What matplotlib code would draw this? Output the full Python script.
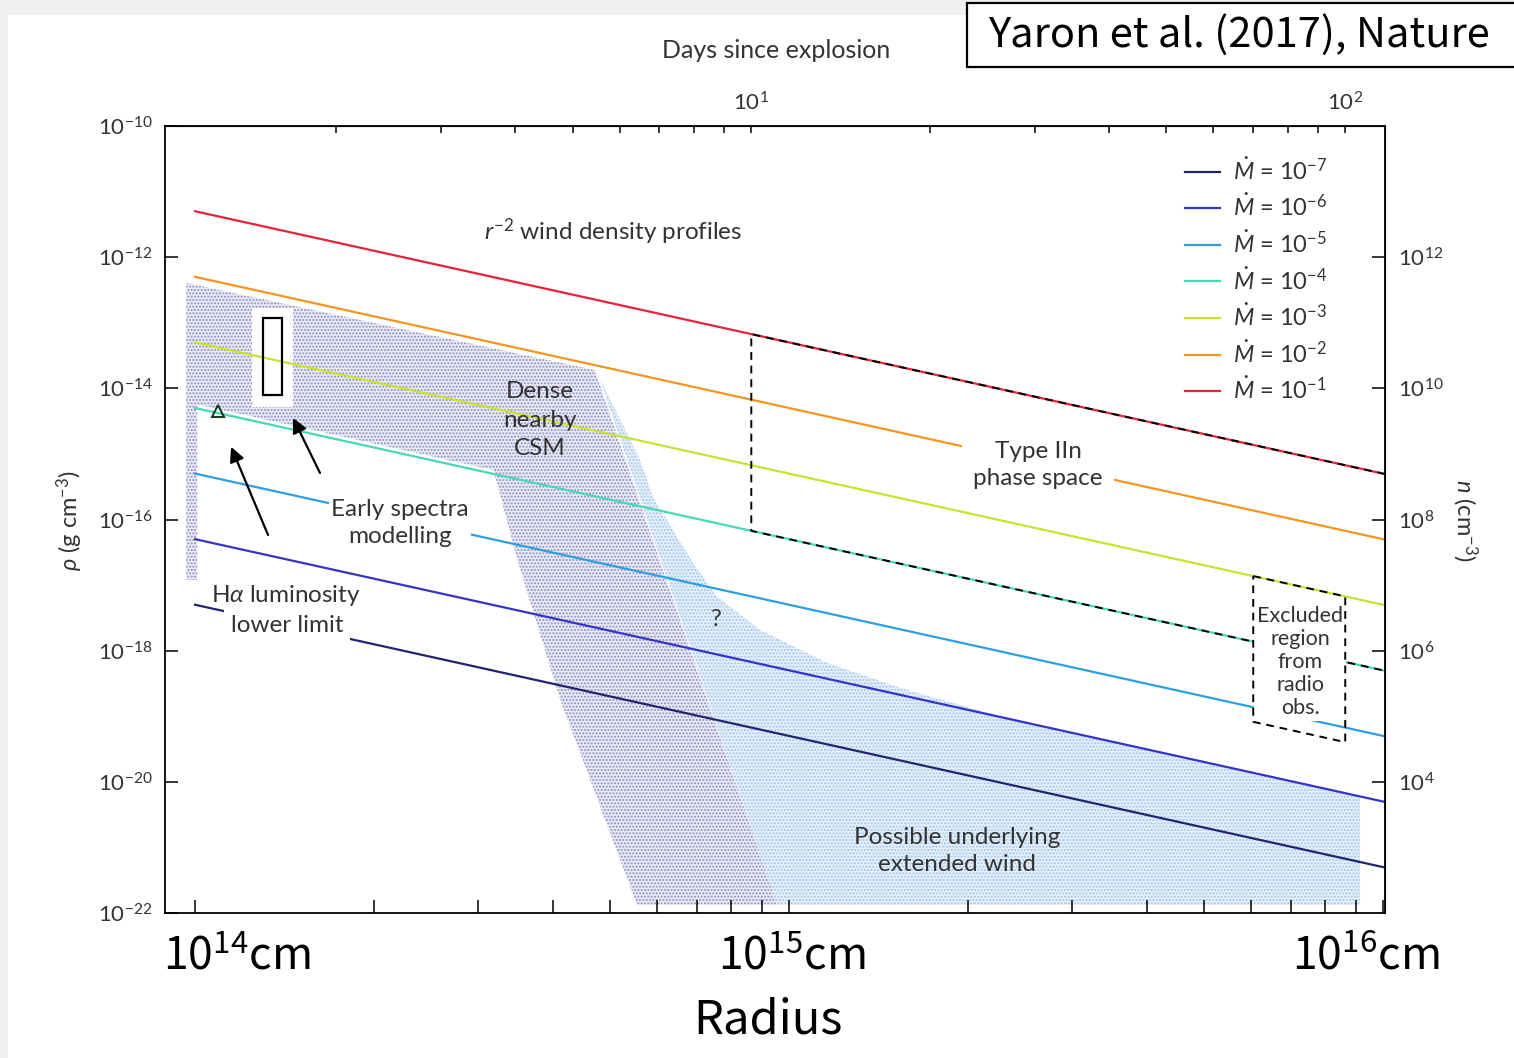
import numpy as np
import matplotlib
matplotlib.use('Agg')
from matplotlib import pyplot as plt
from matplotlib.patches import Rectangle
from matplotlib.ticker import FixedLocator, NullFormatter, NullLocator

plt.rcParams['font.family'] = ['Lato', 'DejaVu Sans']
plt.rcParams['mathtext.fontset'] = 'custom'
plt.rcParams['mathtext.rm'] = 'Lato'
plt.rcParams['mathtext.it'] = 'Lato:italic'
plt.rcParams['mathtext.bf'] = 'Lato:bold'
plt.rcParams['hatch.linewidth'] = 1.0

W, H = 1514, 1058
MSUN_YR = 1.989e33 / 3.156e7   # g/s for 1 Msun/yr
V_WIND = 1e7                   # 100 km/s wind
V_SHOCK = 1e9                  # 1e4 km/s, radius -> days
DAY = 86400.
MU_MASS = 1e-24                # g per particle, rho -> n

# mass-loss rates (Msun/yr) and their colours
mdot = [1e-7, 1e-6, 1e-5, 1e-4, 1e-3, 1e-2, 1e-1]
mdot_exp = ['-7', '-6', '-5', '-4', '-3', '-2', '-1']
mdot_colors = ['#23236e', '#3434c8', '#2d9fdf', '#47d8b6', '#c8e22e', '#f7941d', '#e8233a']

r_lim = [8.9e13, 1.008e16]
rho_lim = [1e-22, 1e-10]
r_start = 1e14

# shaded regions (r in cm, rho in g/cm^3)
dense_csm_r = [9.66e13, 4.71e14, 9.55e14, 5.55e14, 4.12e14, 3.49e14, 3.18e14,
               1.008e14, 1.008e14, 9.66e13]
dense_csm_rho = [4.05e-13, 1.9e-14, 1.33e-22, 1.33e-22, 1.78e-19, 2.42e-17, 5.7e-16,
                 5.7e-15, 1.2e-17, 1.2e-17]
ext_wind_r = [4.81e14, 5.61e14, 5.90e14, 6.89e14, 7.57e14, 8.94e14, 1.159e15,
              1.538e15, 2.266e15, 9.15e15, 9.15e15, 9.55e14]
ext_wind_rho = [1.34e-14, 8.11e-16, 2.21e-16, 2.18e-17, 6.60e-18, 2.07e-18, 6.51e-19,
                2.71e-19, 1.0e-19, 5.9e-21, 1.33e-22, 1.33e-22]

# Type IIn phase space and radio exclusion (days, Msun/yr)
iin_days = 10.
iin_mdot = [1e-4, 1e-1]
excl_days = [70., 100.]
excl_mdot = [6e-6, 1e-3]

# early spectra constraints
early_r = [1.30e14, 1.40e14]
early_rho = [7.9e-15, 1.18e-13]
tri_r = [1.093e14]
tri_rho = [4.5e-15]
arrow_tail_r = [1.327e14, 1.623e14]
arrow_tail_rho = [5.82e-17, 5.13e-16]
arrow_head_r = [1.150e14, 1.462e14]
arrow_head_rho = [1.28e-15, 3.54e-15]


def wind_rho(m, r):
  r = np.asarray(r, dtype=float)
  return m * MSUN_YR / (4 * np.pi * r ** 2 * V_WIND)


def r2days(r):
  return np.asarray(r) / (V_SHOCK * DAY)


def days2r(d):
  return np.asarray(d) * V_SHOCK * DAY


def fig_px(x, y):
  return x / W, 1 - y / H


fig = plt.figure(figsize=(W / 100, H / 100), dpi=100)
fig.patch.set_facecolor('#f0f0f0')
fig.add_artist(Rectangle((8 / W, 0), 1, 1 - 15 / H, transform=fig.transFigure,
                         facecolor='white', edgecolor='none', zorder=-10))

ax = fig.add_axes([165 / W, 1 - 913 / H, 1220 / W, 787 / H])


def ax_px(x, y):
  return (x - 165) / 1220, (913 - y) / 787


ax.set_xscale('log')
ax.set_yscale('log')
ax.set_xlim(r_lim)
ax.set_ylim(rho_lim)

# shaded regions, stippled
ax.fill(ext_wind_r, ext_wind_rho, facecolor='#e7f0fa', edgecolor='#9ec7ec',
        hatch='.....', linewidth=0, zorder=1)
ax.fill(dense_csm_r, dense_csm_rho, facecolor='#ebebf6', edgecolor='#8e8ec4',
        hatch='.....', linewidth=0, zorder=1.1)

# wind density lines
r_line = np.array([r_start, r_lim[1]])
for m, e, c in zip(mdot, mdot_exp, mdot_colors):
  ax.plot(r_line, wind_rho(m, r_line), color=c, lw=1.6, zorder=2,
          label=r'$\dot{M}$ = 10$^{%s}$' % e)

# Type IIn box
r_iin = days2r(iin_days)
ax.plot([r_lim[1], r_iin, r_iin, r_lim[1]],
        [wind_rho(iin_mdot[1], r_lim[1]), wind_rho(iin_mdot[1], r_iin),
         wind_rho(iin_mdot[0], r_iin), wind_rho(iin_mdot[0], r_lim[1])],
        color='black', lw=1.4, ls=(0, (4, 3)), zorder=3)

# radio exclusion box
r_ex = days2r(np.array(excl_days))
ax.plot([r_ex[0], r_ex[1], r_ex[1], r_ex[0], r_ex[0]],
        [wind_rho(excl_mdot[1], r_ex[0]), wind_rho(excl_mdot[1], r_ex[1]),
         wind_rho(excl_mdot[0], r_ex[1]), wind_rho(excl_mdot[0], r_ex[0]),
         wind_rho(excl_mdot[1], r_ex[0])],
        color='black', lw=1.4, ls=(0, (4, 3)), zorder=5)

# early spectra box, with clear space around it
ax.fill([early_r[0] * 0.961, early_r[1] * 1.044, early_r[1] * 1.044, early_r[0] * 0.961],
        [early_rho[0] * 0.66, early_rho[0] * 0.66, early_rho[1] * 1.42, early_rho[1] * 1.42],
        facecolor='white', edgecolor='none', zorder=1.5)
ax.add_patch(Rectangle((early_r[0], early_rho[0]), early_r[1] - early_r[0],
                       early_rho[1] - early_rho[0], facecolor='none',
                       edgecolor='black', lw=1.6, zorder=3))
ax.plot(tri_r, tri_rho, marker='^', ms=8, mfc='none', mec='#1d3b24', mew=1.5,
        ls='none', zorder=3)
for tr, trho, hr, hrho in zip(arrow_tail_r, arrow_tail_rho, arrow_head_r, arrow_head_rho):
  ax.annotate('', xy=(hr, hrho), xytext=(tr, trho),
              arrowprops=dict(arrowstyle='-|>', color='black', lw=1.6,
                              mutation_scale=22, shrinkA=0, shrinkB=0), zorder=3)

# region labels
txt = dict(color='#333333', fontsize=17.5, ha='center', va='center', transform=ax.transAxes,
           linespacing=1.3)
box = dict(facecolor='white', edgecolor='none', pad=2)
ax.text(*ax_px(613, 232), r'$r^{-2}$ wind density profiles', **txt)
ax.text(*ax_px(540, 420), 'Dense\nnearby\nCSM', **dict(txt, linespacing=1.45))
ax.text(*ax_px(400, 523), 'Early spectra\nmodelling', bbox=box, zorder=4, **txt)
ax.text(*ax_px(286, 595), r'H$\alpha$ luminosity', zorder=4, **txt)
ax.text(*ax_px(287, 625), 'lower limit', bbox=dict(facecolor='white', edgecolor='none', pad=5),
        zorder=4, **txt)
ax.text(*ax_px(1038, 465), 'Type IIn\nphase space', bbox=dict(facecolor='white', edgecolor='none', pad=8),
        zorder=4, **txt)
ax.text(*ax_px(715, 620), '?', **txt)
ax.text(*ax_px(957, 851), 'Possible underlying\nextended wind', **txt)
txt_small = dict(txt, fontsize=15.5, linespacing=1.2)
ax.text(*ax_px(1300, 662), 'Excluded\nregion\nfrom\nradio\nobs.', bbox=box, zorder=4, **txt_small)

# axes styling
for s in ax.spines.values():
  s.set_linewidth(1.3)
ax.xaxis.set_major_locator(FixedLocator([1e14, 1e15, 1e16]))
ax.xaxis.set_minor_locator(FixedLocator([k * 10.0 ** p for p in (14, 15) for k in range(2, 10)]))
ax.xaxis.set_major_formatter(NullFormatter())
ax.xaxis.set_minor_formatter(NullFormatter())
ax.yaxis.set_major_locator(FixedLocator([10.0 ** p for p in range(-22, -9, 2)]))
ax.yaxis.set_minor_locator(NullLocator())
ax.tick_params(axis='x', which='both', direction='in', length=9.5, width=1.1, top=False)
ax.tick_params(axis='y', which='both', direction='in', length=9.5, width=1.1,
               labelsize=16, labelcolor='#333333', pad=9)

top = ax.secondary_xaxis('top', functions=(r2days, days2r))
top.xaxis.set_major_locator(FixedLocator([10, 100]))
top.xaxis.set_minor_locator(FixedLocator([k * 10.0 ** p for p in (0, 1) for k in range(2, 10)]))
top.xaxis.set_minor_formatter(NullFormatter())
top.tick_params(which='both', direction='in', length=5, width=1.1, labelsize=16,
                labelcolor='#333333', pad=8)

right = ax.secondary_yaxis('right', functions=(lambda rho: np.asarray(rho) / MU_MASS,
                                               lambda n: np.asarray(n) * MU_MASS))
right.yaxis.set_major_locator(FixedLocator([1e4, 1e6, 1e8, 1e10, 1e12]))
right.yaxis.set_minor_locator(NullLocator())
right.tick_params(which='both', direction='in', length=9.5, width=1.1, labelsize=16,
                  labelcolor='#333333', pad=9)

leg = ax.legend(loc='upper left', bbox_to_anchor=ax_px(1185, 157), frameon=False,
                fontsize=17, labelspacing=0.41, handlelength=1.5, handletextpad=0.55,
                borderpad=0, borderaxespad=0)
for t in leg.get_texts():
  t.set_color('#333333')

# axis titles
fig.text(*fig_px(776, 50), 'Days since explosion', fontsize=18, color='#333333',
         ha='center', va='center')
fig.text(*fig_px(70, 520), r'$\rho$ (g cm$^{-3}$)', fontsize=17, color='#333333',
         ha='center', va='center', rotation=90)
fig.text(*fig_px(1465, 520), r'$n$ (cm$^{-3}$)', fontsize=17, color='#333333',
         ha='center', va='center', rotation=270)

big = dict(family=['Noto Sans CJK JP', 'DejaVu Sans'], color='black', va='center')
fig.text(*fig_px(163, 957), r'$\mathdefault{10^{14}}$cm', fontsize=32, ha='left', **big)
fig.text(*fig_px(792, 957), r'$\mathdefault{10^{15}}$cm', fontsize=32, ha='center', **big)
fig.text(*fig_px(1366, 957), r'$\mathdefault{10^{16}}$cm', fontsize=32, ha='center', **big)
fig.text(*fig_px(768, 1020), 'Radius', fontsize=34, ha='center', **big)

fig.add_artist(Rectangle(fig_px(967, 67), (1530 - 967) / W, 64 / H, transform=fig.transFigure,
                         facecolor='white', edgecolor='black', lw=1.6, clip_on=False))
fig.text(*fig_px(988, 35), 'Yaron et al. (2017), Nature', fontsize=30, ha='left', **big)

fig.savefig('out.png', dpi=100)
